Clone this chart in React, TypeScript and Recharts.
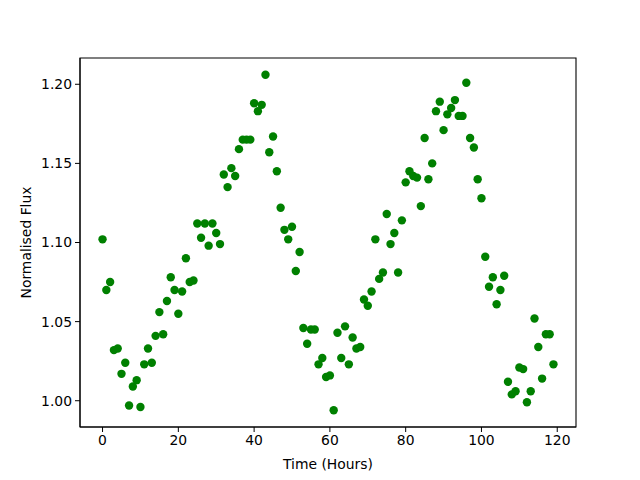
import { ScatterChart, Scatter, XAxis, YAxis, ReferenceArea } from 'recharts'

// hourly samples, 0..119
const hours = Array.from({ length: 120 }, (_, i) => i)

const flux = [
  1.102, 1.070, 1.075, 1.032, 1.033, 1.017, 1.024, 0.997, 1.009, 1.013,
  0.996, 1.023, 1.033, 1.024, 1.041, 1.056, 1.042, 1.063, 1.078, 1.070,
  1.055, 1.069, 1.090, 1.075, 1.076, 1.112, 1.103, 1.112, 1.098, 1.112,
  1.106, 1.099, 1.143, 1.135, 1.147, 1.142, 1.159, 1.165, 1.165, 1.165,
  1.188, 1.183, 1.187, 1.206, 1.157, 1.167, 1.145, 1.122, 1.108, 1.102,
  1.110, 1.082, 1.094, 1.046, 1.036, 1.045, 1.045, 1.023, 1.027, 1.015,
  1.016, 0.994, 1.043, 1.027, 1.047, 1.023, 1.040, 1.033, 1.034, 1.064,
  1.060, 1.069, 1.102, 1.077, 1.081, 1.118, 1.099, 1.106, 1.081, 1.114,
  1.138, 1.145, 1.142, 1.141, 1.123, 1.166, 1.140, 1.150, 1.183, 1.189,
  1.171, 1.181, 1.185, 1.190, 1.180, 1.180, 1.201, 1.166, 1.160, 1.140,
  1.128, 1.091, 1.072, 1.078, 1.061, 1.070, 1.079, 1.012, 1.004, 1.006,
  1.021, 1.020, 0.999, 1.006, 1.052, 1.034, 1.014, 1.042, 1.042, 1.023,
]

const xTicks = [0, 20, 40, 60, 80, 100, 120]
const yTicks = [1.0, 1.05, 1.1, 1.15, 1.2]

const X_DOMAIN: [number, number] = [-5.95, 124.95]
const Y_DOMAIN: [number, number] = [0.9834, 1.2166]

const font = 'DejaVu Sans, sans-serif'
const tickStyle = { fontSize: 13.9, fill: '#000', fontFamily: font }

const data = hours.map((t, i) => ({ t, flux: flux[i] }))

const Dot = (props: any) => <circle cx={props.cx} cy={props.cy} r={4.2} fill="#008000" />

export default function App() {
  return (
    <div style={{ position: 'absolute', left: 0, top: 0, background: '#fff' }}>
      <ScatterChart width={640} height={480} margin={{ top: 58, right: 64, left: 0, bottom: 3 }}>
        <XAxis
          type="number"
          dataKey="t"
          domain={X_DOMAIN}
          ticks={xTicks}
          height={50}
          tickSize={5}
          tickMargin={3}
          tick={tickStyle}
          stroke="#000"
          allowDataOverflow
          label={{ value: 'Time (Hours)', position: 'insideBottom', offset: 8, style: { fontSize: 13.9, fill: '#000', fontFamily: font } }}
        />
        <YAxis
          type="number"
          dataKey="flux"
          domain={Y_DOMAIN}
          ticks={yTicks}
          width={80}
          tickSize={5}
          tickMargin={3}
          tick={tickStyle}
          tickFormatter={(v: number) => v.toFixed(2)}
          stroke="#000"
          allowDataOverflow
          label={{ value: 'Normalised Flux', angle: -90, position: 'insideLeft', offset: 26, style: { textAnchor: 'middle', fontSize: 13.9, fill: '#000', fontFamily: font } }}
        />
        <ReferenceArea x1={X_DOMAIN[0]} x2={X_DOMAIN[1]} y1={Y_DOMAIN[0]} y2={Y_DOMAIN[1]} fill="none" fillOpacity={0} stroke="#000" strokeWidth={1.1} ifOverflow="visible" />
        <Scatter data={data} shape={Dot} isAnimationActive={false} />
      </ScatterChart>
    </div>
  )
}
